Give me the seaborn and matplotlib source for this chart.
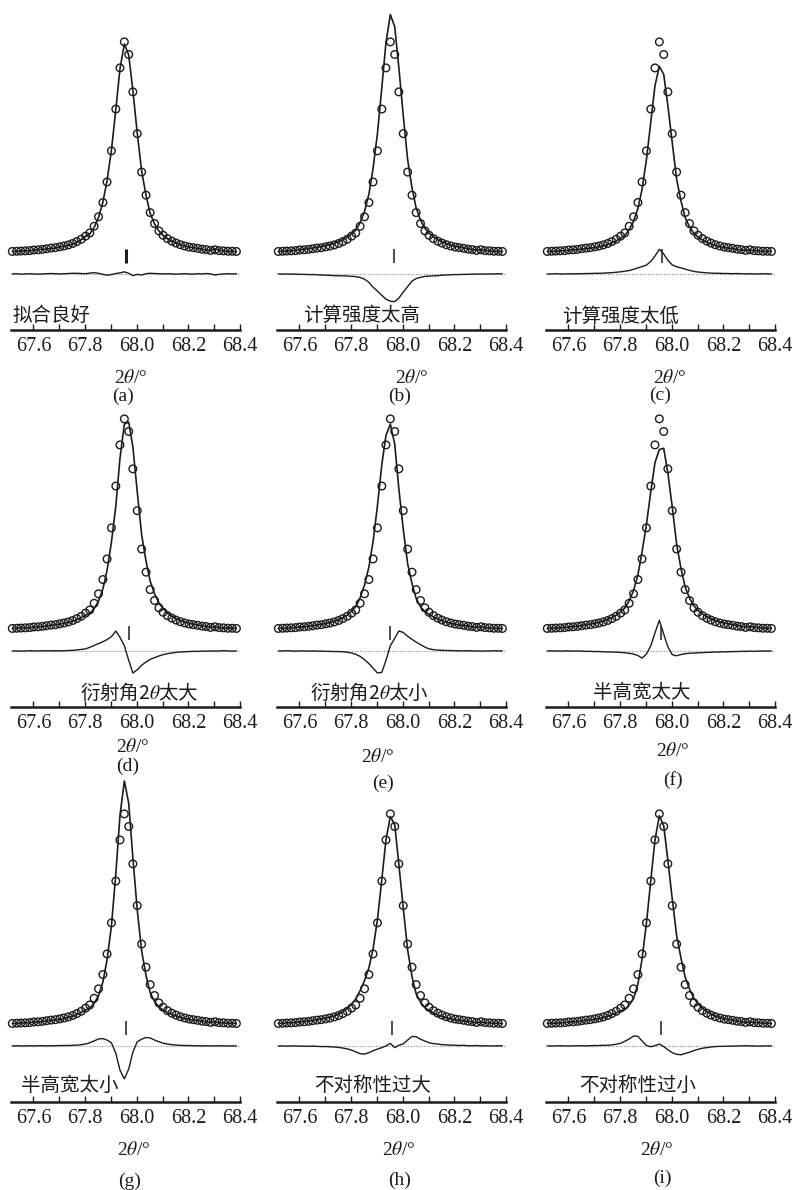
import numpy as np
import pandas as pd
import matplotlib
matplotlib.use("Agg")
import matplotlib.pyplot as plt
from matplotlib.ticker import MultipleLocator
import seaborn as sns

sns.set_theme(style="white")
plt.rcParams["font.family"] = ["Liberation Serif", "DejaVu Serif"]
plt.rcParams["mathtext.fontset"] = "stix"
CJK = ["Noto Sans CJK SC", "DejaVu Sans"]
INK = "#1c1c1c"

# --- data (intensity: obs peak above background = 100) ---
TWO_THETA = [67.518, 67.535, 67.551, 67.568, 67.585, 67.601, 67.618, 67.635, 67.651,
             67.668, 67.685, 67.702, 67.718, 67.735, 67.752, 67.768, 67.785, 67.802,
             67.818, 67.835, 67.852, 67.869, 67.885, 67.902, 67.919, 67.935, 67.952,
             67.969, 67.985, 68.002, 68.019, 68.036, 68.052, 68.069, 68.086, 68.102,
             68.119, 68.136, 68.152, 68.169, 68.186, 68.203, 68.219, 68.236, 68.253,
             68.269, 68.286, 68.303, 68.319, 68.336, 68.353, 68.370, 68.386]

OBS = [10.7, 10.8, 10.9, 11.0, 11.1, 11.4, 11.5, 11.7, 12.0, 12.3, 12.5, 12.9, 13.3,
       13.8, 14.5, 15.4, 16.5, 18.0, 19.5, 22.7, 27.2, 34.0, 43.8, 58.6, 78.5, 98.1,
       110.5,
       104.5, 86.7, 66.8, 48.5, 37.5, 29.2, 24.0, 20.5, 18.4, 16.8, 15.6, 14.7, 13.9,
       13.3, 12.8, 12.5, 12.2, 11.8, 11.6, 11.2, 11.5, 11.1, 11.0, 10.8, 10.8, 10.7]

# difference curves (obs - calc), one per panel
DIFF_A = [0.0, 0.1, -0.1, 0.0, 0.1, 0.0, -0.1, 0.0, 0.1, 0.2, 0.1, 0.0, 0.1,
          0.2, 0.3, 0.3, 0.2, 0.1, 0.4, 0.6, 0.3, -0.2, -0.6, -0.3, 0.2, 0.5,
          1.0,
          0.3, -0.8, -0.2, -0.5, 0.1, 0.3, 0.2, 0.1, 0.0, 0.1, 0.0, -0.1, 0.0,
          0.1, 0.0, -0.1, 0.1, 0.0, 0.2, 0.0, -0.5, -0.2, 0.0, 0.1, 0.0, 0.1]
DIFF_B = [0.0, -0.1, 0.0, -0.1, -0.1, -0.2, -0.2, -0.3, -0.3, -0.4, -0.5, -0.6, -0.7,
          -0.8, -0.9, -0.9, -1.0, -1.1, -1.3, -1.7, -2.5, -4.0, -6.3, -8.2, -10.2, -12.0,
          -13.0,
          -13.2, -11.5, -8.7, -6.0, -3.4, -2.2, -1.6, -1.2, -1.0, -0.9, -0.8, -0.6, -0.5,
          -0.4, -0.3, -0.3, -0.2, -0.2, -0.1, -0.1, 0.0, -0.1, 0.0, 0.0, 0.1, 0.0]
DIFF_C = [0.0, 0.0, 0.1, 0.0, 0.0, 0.1, 0.0, 0.1, 0.1, 0.2, 0.2, 0.3, 0.3,
          0.4, 0.5, 0.6, 0.8, 1.0, 1.3, 1.6, 2.2, 2.9, 3.5, 4.2, 6.0, 8.5,
          11.7,
          9.5, 6.5, 4.3, 3.4, 2.9, 2.3, 1.7, 1.2, 0.9, 0.7, 0.5, 0.4, 0.3,
          0.3, 0.2, 0.2, 0.1, 0.2, 0.1, 0.0, 0.1, 0.0, 0.0, 0.1, 0.0, 0.0]
DIFF_D = [0.0, 0.0, -0.1, 0.0, 0.1, 0.0, 0.0, 0.1, 0.0, 0.1, 0.0, 0.1, 0.1,
          0.2, 0.3, 0.5, 0.7, 1.0, 1.7, 2.6, 3.5, 4.4, 5.4, 6.8, 9.5, 6.5,
          2.5,
          -4.5, -10.5, -9.0, -6.8, -5.3, -4.0, -3.2, -2.4, -1.8, -1.3, -1.0, -0.7, -0.5,
          -0.4, -0.3, -0.2, -0.2, -0.1, -0.1, 0.0, -0.1, 0.0, 0.1, 0.0, -0.1, 0.0]
DIFF_E = [0.0, 0.0, 0.1, 0.0, -0.1, 0.0, 0.0, -0.1, 0.0, -0.1, -0.1, -0.2, -0.2,
          -0.3, -0.3, -0.4, -0.6, -1.0, -1.6, -2.6, -4.2, -6.0, -8.2, -10.5, -10.2, -4.5,
          2.5,
          6.0, 9.5, 8.8, 7.0, 5.5, 4.2, 3.0, 1.8, 1.0, 0.6, 0.4, 0.3, 0.2,
          0.2, 0.1, 0.1, 0.0, 0.1, 0.0, 0.0, -0.1, 0.0, 0.0, 0.1, 0.0, 0.0]
DIFF_F = [0.0, 0.0, 0.0, -0.1, 0.0, 0.0, -0.1, 0.0, -0.1, -0.2, -0.2, -0.3, -0.3,
          -0.4, -0.5, -0.5, -0.6, -0.7, -0.9, -1.1, -1.5, -2.2, -3.4, -1.5, 2.5, 8.5,
          14.6,
          8.0, 2.0, -1.8, -2.3, -1.7, -1.3, -1.1, -1.0, -0.9, -0.8, -0.7, -0.6, -0.5,
          -0.5, -0.4, -0.4, -0.3, -0.3, -0.2, -0.2, -0.1, -0.2, -0.1, 0.0, -0.1, 0.0]
DIFF_G = [0.0, 0.1, 0.0, 0.0, 0.1, 0.0, 0.1, 0.1, 0.0, 0.1, 0.1, 0.2, 0.2,
          0.2, 0.3, 0.4, 0.6, 0.9, 1.5, 2.4, 3.3, 3.5, 2.8, 1.5, -3.5, -11.5,
          -15.7,
          -11.0, -3.0, 2.0, 3.2, 4.0, 3.8, 2.8, 2.0, 1.3, 0.9, 0.6, 0.4, 0.3,
          0.2, 0.2, 0.1, 0.1, 0.0, 0.1, 0.0, 0.0, 0.1, 0.0, 0.0, 0.0, 0.0]
DIFF_H = [0.0, 0.0, -0.1, 0.0, 0.0, -0.1, -0.1, -0.2, -0.1, -0.2, -0.3, -0.3, -0.4,
          -0.5, -0.7, -1.0, -1.4, -2.0, -2.8, -3.7, -3.9, -3.2, -2.3, -1.5, -0.8, 0.0,
          1.2,
          -0.8, 0.3, 1.0, 2.8, 4.5, 4.4, 3.2, 2.3, 1.5, 1.1, 0.9, 0.6, 0.5,
          0.4, 0.3, 0.2, 0.3, 0.1, 0.1, 0.2, 0.0, 0.1, 0.0, 0.0, 0.1, 0.0]
DIFF_I = [0.0, 0.0, 0.0, 0.1, 0.0, 0.0, 0.0, 0.1, 0.1, 0.0, 0.1, 0.2, 0.2,
          0.3, 0.3, 0.5, 0.8, 1.3, 2.2, 3.3, 4.7, 4.6, 2.4, 0.2, -0.4, 0.1,
          0.9,
          -0.3, -1.8, -3.2, -4.0, -4.2, -3.6, -3.0, -2.2, -1.6, -1.1, -0.8, -0.5, -0.3,
          -0.2, -0.2, -0.1, -0.1, 0.0, 0.0, 0.1, 0.0, 0.0, -0.1, 0.0, 0.0, 0.0]
DIFFS = [DIFF_A, DIFF_B, DIFF_C, DIFF_D, DIFF_E, DIFF_F, DIFF_G, DIFF_H, DIFF_I]

BRAGG = [67.960, 67.965, 67.962, 67.970, 67.950, 67.960, 67.957, 67.958, 67.960]
LABELS = ["拟合良好", "计算强度太高", "计算强度太低",
          "衍射角2$\\theta$太大", "衍射角2$\\theta$太小", "半高宽太大",
          "半高宽太小", "不对称性过大", "不对称性过小"]
TAGS = ["(a)", "(b)", "(c)", "(d)", "(e)", "(f)", "(g)", "(h)", "(i)"]
XTICKS = [67.6, 67.8, 68.0, 68.2, 68.4]

# --- layout (pixels of the 793x1190 page) ---
W, H = 793, 1190
COL_LEFT = [11, 277, 546]
ROW_AXIS = [330, 707, 1102]
AX_W = 229
PX_PER_UNIT = 2.1
Y_LO, Y_HI = -26.7, 128
AX_H = (Y_HI - Y_LO) * PX_PER_UNIT
LABEL_X = [67.52, 67.614, 67.575, 67.78, 67.64, 67.695, 67.55, 67.656, 67.64]
LABEL_Y = [-20.0, -20.0, -18.6]
XLAB_POS = [(131, 378), (412, 378), (670, 378), (133, 747), (378, 757), (673, 751),
            (134, 1150), (399, 1150), (657, 1150)]
TAG_POS = [(123, 396), (400, 396), (660, 395), (128, 766), (383, 783), (673, 780),
           (130, 1181), (400, 1180), (662, 1178)]

fig = plt.figure(figsize=(W / 100, H / 100), dpi=100)
fig.patch.set_facecolor("white")

obs = np.array(OBS)
for i, diff in enumerate(DIFFS):
    r, c = divmod(i, 3)
    ax = fig.add_axes([COL_LEFT[c] / W, 1 - ROW_AXIS[r] / H, AX_W / W, AX_H / H])
    ax.set_facecolor("none")
    d = pd.DataFrame({"tt": TWO_THETA, "obs": obs, "diff": diff})
    d["calc"] = d["obs"] - d["diff"]

    ax.axhline(0, color="#8a8a8a", ls=(0, (1, 1.4)), lw=0.8, zorder=1)
    sns.lineplot(data=d, x="tt", y="diff", ax=ax, color=INK, lw=1.0, zorder=2)
    sns.lineplot(data=d, x="tt", y="calc", ax=ax, color=INK, lw=1.2, zorder=2)
    sns.scatterplot(data=d, x="tt", y="obs", ax=ax, s=30, marker="o",
                    facecolor="none", edgecolor=INK, linewidth=1.0, zorder=3,
                    clip_on=False)
    ax.vlines(BRAGG[i], 5, 12, color=INK, lw=2.2 if i == 0 else 1.1)

    ax.set_xlim(67.513, 68.4)
    ax.set_ylim(Y_LO, Y_HI)
    for s in ["left", "right", "top"]:
        ax.spines[s].set_visible(False)
    ax.spines["bottom"].set_linewidth(1.8)
    ax.spines["bottom"].set_color(INK)
    ax.set_xticks(XTICKS)
    ax.set_xticklabels([f"{t:.1f}" for t in XTICKS])
    ax.xaxis.set_minor_locator(MultipleLocator(0.1))
    ax.tick_params(axis="x", which="both", direction="in", length=4, width=1,
                   colors=INK, labelsize=14.5, pad=5, bottom=True)
    ax.set_yticks([])
    ax.set_xlabel(""); ax.set_ylabel("")
    ax.grid(False)

    ax.text(LABEL_X[i], LABEL_Y[r], LABELS[i], family=CJK, fontsize=14,
            ha="left", va="center", color=INK)
    fig.text(XLAB_POS[i][0] / W, 1 - XLAB_POS[i][1] / H, "2$\\theta$/°",
             fontsize=14, ha="center", va="center", color=INK)
    fig.text(TAG_POS[i][0] / W, 1 - TAG_POS[i][1] / H, TAGS[i],
             fontsize=14, ha="center", va="center", color=INK)

fig.savefig("out.png", dpi=100, facecolor="white")
